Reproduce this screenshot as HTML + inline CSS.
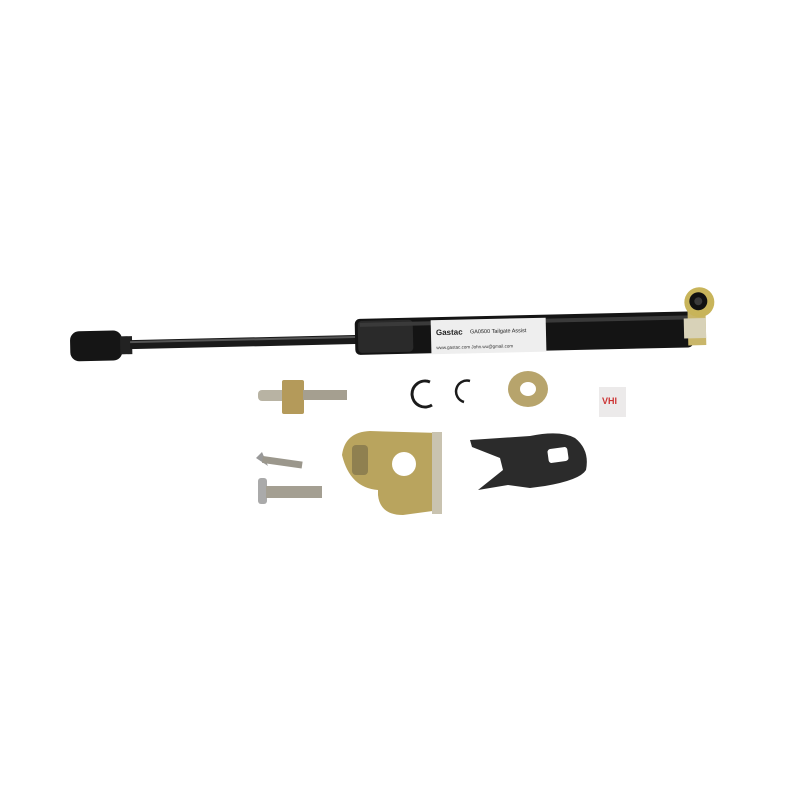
<!DOCTYPE html>
<html><head><style>html,body{margin:0;padding:0;background:#fff;width:800px;height:800px;overflow:hidden}</style></head>
<body>
<svg width="800" height="800" viewBox="0 0 800 800" xmlns="http://www.w3.org/2000/svg">
<rect width="800" height="800" fill="#fff"/>
<g transform="rotate(-1.3 400 335)">
  <!-- left eye end -->
  <rect x="70" y="324" width="52" height="30" rx="9" fill="#151515"/>
  <rect x="120" y="330" width="12" height="18" fill="#222"/>
  <!-- rod -->
  <rect x="130" y="334" width="230" height="9" fill="#1a1a1a"/>
  <rect x="130" y="335" width="230" height="2" fill="#555"/>
  <!-- cylinder -->
  <rect x="355" y="318" width="338" height="36" rx="5" fill="#141414"/>
  <rect x="358" y="320" width="55" height="32" rx="4" fill="#2a2a2a"/>
  <rect x="360" y="322" width="330" height="4" fill="#3a3a3a"/>
  <!-- label -->
  <rect x="431" y="321" width="115" height="34" fill="#eeeeee"/>
  <text x="436" y="336" font-family="Liberation Sans, sans-serif" font-size="8" font-weight="bold" fill="#222">Gastac</text>
  <text x="470" y="335" font-family="Liberation Sans, sans-serif" font-size="5.5" fill="#222">GA0500 Tailgate Assist</text>
  <text x="436" y="350" font-family="Liberation Sans, sans-serif" font-size="4.5" fill="#333">www.gastac.com   John.wu@gmail.com</text>
  <!-- right end fitting -->
  <rect x="688" y="318" width="18" height="34" fill="#c9b66a"/>
  <rect x="684" y="325" width="22" height="20" fill="#d8d2b8"/>
  <circle cx="700" cy="309" r="15" fill="#c8b45a"/>
  <circle cx="699" cy="308" r="9" fill="#111"/>
  <circle cx="699" cy="308" r="4" fill="#3a3a3a"/>
</g>
<!-- stud -->
<rect x="258" y="390" width="30" height="11" rx="4" fill="#b8b3a3"/>
<rect x="282" y="380" width="22" height="34" rx="2" fill="#b49a5a"/>
<rect x="303" y="390" width="44" height="10" fill="#a59f90"/>
<!-- e-clip -->
<path d="M430 382 A13 13 0 1 0 432 405" fill="none" stroke="#1b1b1b" stroke-width="3"/>
<path d="M470 381 A9 9 0 1 0 464 402" fill="none" stroke="#1b1b1b" stroke-width="2.5"/>
<!-- washer -->
<ellipse cx="528" cy="389" rx="20" ry="18" fill="#b7a46c"/>
<ellipse cx="528" cy="389" rx="8" ry="7" fill="#fff"/>
<!-- VHB -->
<rect x="599" y="387" width="27" height="30" fill="#eceaea"/>
<text x="602" y="404" font-family="Liberation Sans, sans-serif" font-size="9" font-weight="bold" fill="#c33">VHI</text>
<!-- screws -->
<polygon points="256,458 262,452 268,466" fill="#999"/>
<rect x="263" y="456" width="40" height="7" fill="#9b978c" transform="rotate(8 263 456)"/>
<rect x="258" y="478" width="9" height="26" rx="3" fill="#aaa"/>
<rect x="266" y="486" width="56" height="12" fill="#a49f92"/>
<!-- bracket gold -->
<path d="M342 455 Q345 432 370 431 L440 433 L440 510 L403 515 Q380 515 378 495 L378 490 Q350 488 342 455 Z" fill="#b9a45e"/>
<rect x="432" y="432" width="10" height="82" fill="#c9c3b0"/>
<circle cx="404" cy="464" r="12" fill="#fff"/>
<rect x="352" y="445" width="16" height="30" rx="4" fill="#8f8050"/>
<!-- bracket dark -->
<path d="M470 440 L530 436 Q560 430 575 438 Q590 450 586 470 Q580 480 545 486 L530 488 L508 485 L478 490 L503 470 L500 458 L472 447 Z" fill="#2b2b2b"/>
<rect x="548" y="448" width="20" height="14" rx="3" fill="#fff" transform="rotate(-8 558 455)"/>
</svg>
</body></html>
